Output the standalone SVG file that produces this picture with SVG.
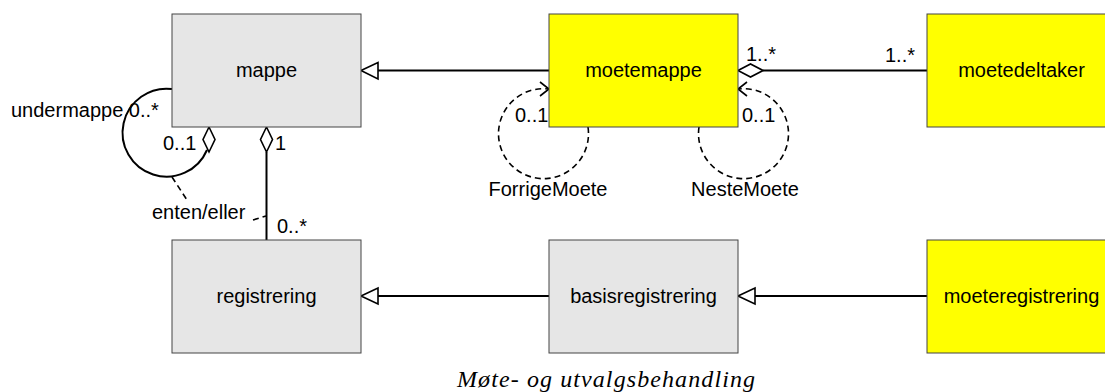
<svg xmlns="http://www.w3.org/2000/svg" width="1105" height="392" viewBox="0 0 1105 392">
<style>
.box{stroke:#444;stroke-width:1}
.gray{fill:#e6e6e6}
.yel{fill:#ffff00}
.lbl{font-family:"Liberation Sans",Arial,sans-serif;font-size:20px;fill:#000}
.c{text-anchor:middle}
.ln{stroke:#000;stroke-width:2;fill:none}
.dash{stroke:#000;stroke-width:1.6;fill:none;stroke-dasharray:6,4}
.hd{stroke:#000;stroke-width:1.6;fill:#fff}
</style>
<rect width="1105" height="392" fill="#fff"/>
<g id="connectors">
  <line class="ln" x1="549" y1="70.5" x2="378" y2="70.5"/>
  <polygon class="hd" points="361,70.5 378,62.5 378,79"/>
  <line class="ln" x1="549" y1="296" x2="378" y2="296"/>
  <polygon class="hd" points="361,296 378,288 378,304"/>
  <line class="ln" x1="927" y1="296" x2="755" y2="296"/>
  <polygon class="hd" points="738,296 755,288 755,304"/>
  <line class="ln" x1="763" y1="70.5" x2="927" y2="70.5"/>
  <polygon class="hd" points="738,70.5 750.5,64 763,70.5 750.5,77"/>
  <line class="ln" x1="266.5" y1="152" x2="266.5" y2="240"/>
  <polygon class="hd" points="266.5,127 272.5,139.5 266.5,152 260.5,139.5"/>
  <path class="ln" d="M172,89 A44,44 0 1 0 207,150"/>
  <polygon class="hd" points="209,127 215,139.5 209,152 203,139.5"/>
  <path class="dash" d="M172,177 L187,200"/>
  <path class="dash" d="M253,220 L266,216"/>
  <path class="dash" d="M588,127 A45,45 0 1 1 549,89"/>
  <path class="ln" style="stroke-width:1.6" d="M540,82 L549,89 L540,96"/>
  <path class="dash" d="M699,127 A45,45 0 1 0 738,89"/>
  <path class="ln" style="stroke-width:1.6" d="M747,82 L738,89 L747,96"/>
</g>
<g id="mappe"><rect class="box gray" x="172" y="14" width="189" height="113"/><text class="lbl c" x="266.5" y="77">mappe</text></g>
<g id="moetemappe"><rect class="box yel" x="549" y="14" width="189" height="113"/><text class="lbl c" x="643.5" y="77">moetemappe</text></g>
<g id="moetedeltaker"><rect class="box yel" x="927" y="14" width="189" height="113"/><text class="lbl c" x="1021.5" y="77">moetedeltaker</text></g>
<g id="registrering"><rect class="box gray" x="172" y="240" width="189" height="113"/><text class="lbl c" x="266.5" y="303">registrering</text></g>
<g id="basisregistrering"><rect class="box gray" x="549" y="240" width="189" height="113"/><text class="lbl c" x="643.5" y="303">basisregistrering</text></g>
<g id="moeteregistrering"><rect class="box yel" x="927" y="240" width="189" height="113"/><text class="lbl c" x="1021.5" y="303">moeteregistrering</text></g>
<g id="labels">
  <text class="lbl" x="11" y="117">undermappe 0..*</text>
  <text class="lbl" x="163" y="150">0..1</text>
  <text class="lbl" x="275" y="150">1</text>
  <text class="lbl" x="277" y="233">0..*</text>
  <text class="lbl" x="152" y="219">enten/eller</text>
  <text class="lbl" x="515" y="122">0..1</text>
  <text class="lbl" x="742" y="122">0..1</text>
  <text class="lbl" x="746" y="61">1..*</text>
  <text class="lbl" x="885" y="62">1..*</text>
  <text class="lbl c" x="548" y="196">ForrigeMoete</text>
  <text class="lbl c" x="745" y="196">NesteMoete</text>
  <text x="457" y="387" textLength="298" lengthAdjust="spacing" style="font-family:'Liberation Serif','Times New Roman',serif;font-style:italic;font-size:24px">Møte- og utvalgsbehandling</text>
</g>
</svg>
